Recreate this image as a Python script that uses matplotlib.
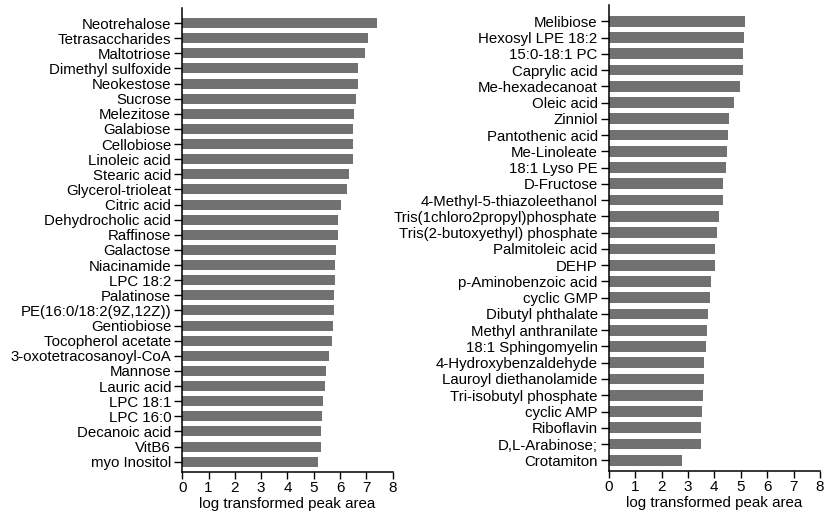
import matplotlib
matplotlib.use("Agg")
import matplotlib.pyplot as plt

plt.rcParams['font.family'] = ['Liberation Sans', 'DejaVu Sans']

left_names = ["Neotrehalose", "Tetrasaccharides", "Maltotriose", "Dimethyl sulfoxide",
              "Neokestose", "Sucrose", "Melezitose", "Galabiose", "Cellobiose",
              "Linoleic acid", "Stearic acid", "Glycerol-trioleat", "Citric acid",
              "Dehydrocholic acid", "Raffinose", "Galactose", "Niacinamide", "LPC 18:2",
              "Palatinose", "PE(16:0/18:2(9Z,12Z))", "Gentiobiose", "Tocopherol acetate",
              "3-oxotetracosanoyl-CoA", "Mannose", "Lauric acid", "LPC 18:1", "LPC 16:0",
              "Decanoic acid", "VitB6", "myo Inositol"]
left_values = [7.39, 7.07, 6.95, 6.69, 6.67, 6.60, 6.53, 6.50, 6.48, 6.48, 6.35, 6.25,
               6.05, 5.93, 5.91, 5.83, 5.82, 5.79, 5.77, 5.76, 5.74, 5.70, 5.58, 5.48,
               5.43, 5.34, 5.31, 5.29, 5.26, 5.15]

right_names = ["Melibiose", "Hexosyl LPE 18:2", "15:0-18:1 PC", "Caprylic acid",
               "Me-hexadecanoat", "Oleic acid", "Zinniol", "Pantothenic acid",
               "Me-Linoleate", "18:1 Lyso PE", "D-Fructose", "4-Methyl-5-thiazoleethanol",
               "Tris(1chloro2propyl)phosphate", "Tris(2-butoxyethyl) phosphate",
               "Palmitoleic acid", "DEHP", "p-Aminobenzoic acid", "cyclic GMP",
               "Dibutyl phthalate", "Methyl anthranilate", "18:1 Sphingomyelin",
               "4-Hydroxybenzaldehyde", "Lauroyl diethanolamide", "Tri-isobutyl phosphate",
               "cyclic AMP", "Riboflavin", "D,L-Arabinose;", "Crotamiton"]
right_values = [5.16, 5.13, 5.10, 5.07, 4.97, 4.76, 4.56, 4.53, 4.47, 4.45, 4.33, 4.31,
                4.18, 4.11, 4.04, 4.01, 3.86, 3.82, 3.77, 3.72, 3.67, 3.62, 3.59, 3.57,
                3.53, 3.48, 3.48, 2.79]

xticks = [0, 1, 2, 3, 4, 5, 6, 7, 8]
xlabel = "log transformed peak area"
bar_color = "#6f7173"

fig = plt.figure(figsize=(8.26, 5.15), dpi=100)
ax1 = fig.add_axes([0.2207, 0.0841, 0.2547, 0.9004])
ax2 = fig.add_axes([0.7370, 0.0854, 0.2557, 0.9049])

for ax, names, vals in [(ax1, left_names, left_values), (ax2, right_names, right_values)]:
    n = len(names)
    ax.barh(range(n), vals, height=0.66, color=bar_color)
    ax.set_yticks(range(n))
    ax.set_yticklabels(names, fontsize=10.8)
    ax.set_ylim(n - 1 + 0.66, -1)
    ax.set_xlim(0, 8)
    ax.set_xticks(xticks)
    ax.set_xticklabels([str(t) for t in xticks], fontsize=11)
    ax.set_xlabel(xlabel, fontsize=10.9, labelpad=1.5)
    for s in ['top', 'right']:
        ax.spines[s].set_visible(False)
    for s in ['left', 'bottom']:
        ax.spines[s].set_linewidth(1.1)
        ax.spines[s].set_color('black')
    ax.tick_params(axis='y', length=5.5, width=1.0, pad=2.5)
    ax.tick_params(axis='x', length=5, width=1.0, pad=1.5)

fig.savefig("out.png", dpi=100)
